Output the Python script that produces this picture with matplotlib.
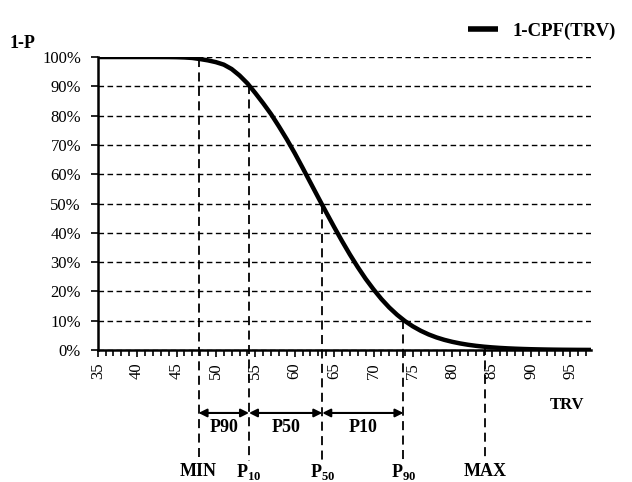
import numpy as np
import matplotlib
matplotlib.use("Agg")
import matplotlib.pyplot as plt
from matplotlib.ticker import MultipleLocator, FuncFormatter

plt.rcParams['font.family'] = ['Liberation Serif', 'DejaVu Serif']
plt.rcParams['mathtext.fontset'] = 'custom'
plt.rcParams['mathtext.rm'] = 'Liberation Serif'
plt.rcParams['mathtext.bf'] = 'Liberation Serif:bold'

# curve: TRV vs 1-CPF (%)
trv = [35, 36, 37, 38, 39, 40, 41, 42, 43, 44, 45, 46, 47, 48, 49, 50, 51, 52,
       53, 54, 55, 56, 57, 58, 59, 60, 61, 62, 63, 64, 65, 66, 67, 68, 69, 70,
       71, 72, 73, 74, 75, 76, 77, 78, 79, 80, 81, 82, 83, 84, 85, 86, 87, 88,
       89, 90, 91, 92, 93, 94, 95, 96, 97, 97.6]
one_minus_p = [100, 100, 100, 100, 100, 100, 100, 100, 99.99, 99.98, 99.94,
               99.85, 99.68, 99.3, 98.85, 98.25, 97.4, 95.9, 93.7, 91.0,
               87.7, 84.2, 80.5, 76.3, 71.9, 67.2, 62.2, 57.1, 52.0,
               46.95, 42.0, 37.2, 32.6, 28.3, 24.3, 20.7, 17.4, 14.5,
               12.0, 9.85, 8.05, 6.55, 5.3, 4.28, 3.45, 2.78, 2.23, 1.78,
               1.42, 1.13, 0.9, 0.71, 0.56, 0.44, 0.34, 0.26, 0.2, 0.15,
               0.11, 0.08, 0.06, 0.04, 0.03, 0.02]

# marker lines
mark_x = [47.8, 54.2, 63.5, 73.8, 84.2]
mark_top = [99.5, 90.3, 49.5, 10.2, 1.2]
mark_names = ['MIN', r'P$_{\mathbf{10}}$', r'P$_{\mathbf{50}}$', r'P$_{\mathbf{90}}$', 'MAX']
span_names = ['P90', 'P50', 'P10']

fig = plt.figure(figsize=(6.32, 4.82), dpi=100)
ax = fig.add_axes([0.1546, 0.2739, 0.7805, 0.6078])

ax.plot(trv, one_minus_p, color='black', lw=3.2, solid_capstyle='butt',
        solid_joinstyle='round', zorder=5, label='1-CPF(TRV)')

ax.set_xlim(35, 97.6)
ax.set_ylim(0, 100)

ax.xaxis.set_major_locator(MultipleLocator(5))
ax.xaxis.set_minor_locator(MultipleLocator(1))
ax.yaxis.set_major_locator(MultipleLocator(10))
ax.yaxis.set_major_formatter(FuncFormatter(lambda v, p: f'{v:.0f}%'))

for s in ['top', 'right']:
    ax.spines[s].set_visible(False)
for s in ['left', 'bottom']:
    ax.spines[s].set_linewidth(1.8)
    ax.spines[s].set_zorder(6)

ax.tick_params(axis='y', which='major', direction='out', length=5, width=1.2,
               labelsize=12, pad=7)
ax.tick_params(axis='x', which='both', direction='out', width=1.2, labelsize=12)
ax.tick_params(axis='x', which='major', length=5, pad=4)
ax.tick_params(axis='x', which='minor', length=4)
for lbl in ax.get_xticklabels():
    lbl.set_rotation(90)

ax.grid(True, axis='y', which='major', ls=(0, (4, 2.5)), color='black', lw=1)
ax.set_axisbelow(True)

# vertical dashed marker lines running below the axis
bottoms = [-36.5, -38.0, -38.0, -38.0, -37.5]
for x, top, bot in zip(mark_x, mark_top, bottoms):
    ax.plot([x, x], [top, bot], color='black', lw=1.3, ls=(0, (5, 3)),
            clip_on=False, zorder=4)

for x, name in zip(mark_x, mark_names):
    ax.text(x, -41.6, name, ha='center', va='center', fontsize=13,
            fontweight='bold')

# double arrows between the markers
for i, name in enumerate(span_names):
    x0, x1 = mark_x[i], mark_x[i + 1]
    ax.annotate('', xy=(x1, -21.5), xytext=(x0, -21.5),
                arrowprops=dict(arrowstyle='<|-|>', color='black', lw=1.5,
                                mutation_scale=12, shrinkA=0, shrinkB=0),
                annotation_clip=False)
    ax.text((x0 + x1) / 2, -26.5, name, ha='center', va='center', fontsize=13,
            fontweight='bold')

ax.text(94.5, -18.8, 'TRV', ha='center', va='center', fontsize=12,
        fontweight='bold')
fig.text(10 / 632, 1 - 44 / 482, '1-P', ha='left', va='center', fontsize=13,
         fontweight='bold')

leg = ax.legend(loc='upper right', bbox_to_anchor=(1.085, 1.175), frameon=False,
                prop={'weight': 'bold', 'size': 13.5}, handlelength=1.6,
                handletextpad=0.8)
for h in leg.legend_handles:
    h.set_linewidth(4)

fig.savefig('out.png', dpi=100)
